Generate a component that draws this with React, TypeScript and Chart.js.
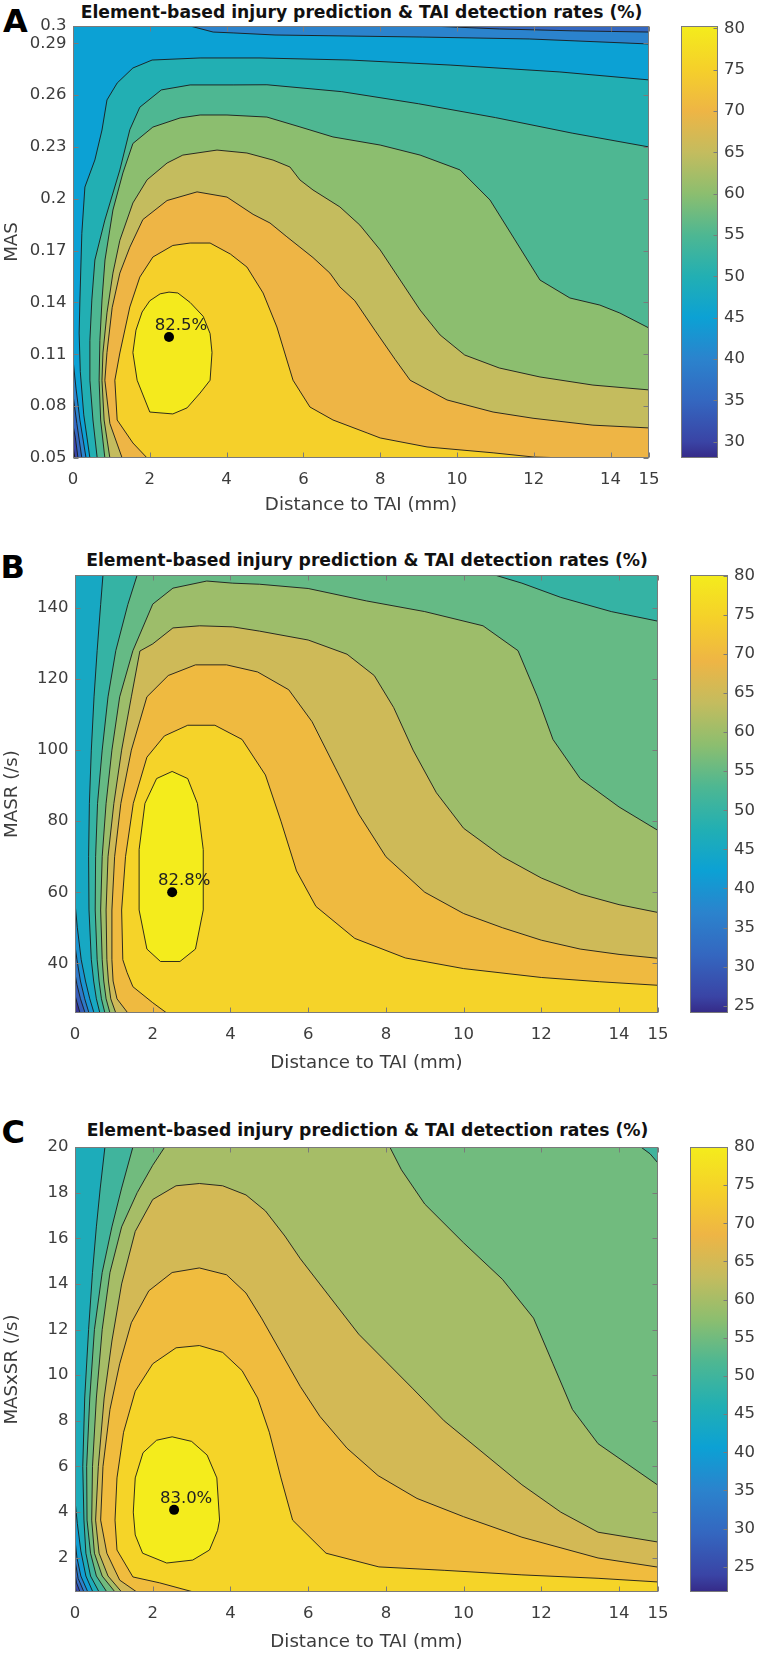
import React, { useEffect, useRef } from "react";
import { Chart, registerables } from "chart.js";

Chart.register(...registerables);

// ---------------- shared text ----------------
const TITLE = "Element-based injury prediction & TAI detection rates (%)";
const X_TITLE = "Distance to TAI (mm)";
const X_TICKS = [0, 2, 4, 6, 8, 10, 12, 14, 15];

// ---------------- panel A ----------------
const A_Y_TICKS = [0.05, 0.08, 0.11, 0.14, 0.17, 0.2, 0.23, 0.26, 0.29, 0.3];
const A_CB_TICKS = [30, 35, 40, 45, 50, 55, 60, 65, 70, 75, 80];
const A_CB_RANGE = [28.04, 80.28];
const A_LEVELS = [30, 35, 40, 45, 50, 55, 60, 65, 70, 75, 80];
const A_PEAK = [2.5, 0.12];
const A_PEAK_LABEL = "82.5%";
const A_C30 = [[0, 0.3], [15, 0.3], [15, 0.05], [0.05, 0.05], [0.02, 0.054], [0, 0.0575]];
const A_C35 = [[0, 0.3], [15, 0.3], [15, 0.05], [0.13, 0.05], [0.06, 0.062], [0, 0.069]];
const A_C40 = [[0, 0.3], [9.3, 0.3], [11.1, 0.2983], [13, 0.2972], [15, 0.2965], [15, 0.05], [0.23, 0.05], [0.1, 0.07], [0, 0.0865]];
const A_C45 = [[0, 0.3], [3.05, 0.3], [3.65, 0.2965], [4.17, 0.296], [5.26, 0.2948], [9.11, 0.2936], [11.88, 0.2925], [15, 0.2896], [15, 0.05], [0.34, 0.05], [0.18, 0.072], [0.08, 0.09], [0, 0.107]];
const A_C50 = [[15, 0.2688], [12.68, 0.2734], [9.82, 0.2774], [7.21, 0.2803], [4.87, 0.2815], [3.31, 0.2815], [2.06, 0.2803], [1.56, 0.2757], [1.15, 0.267], [0.885, 0.2572], [0.755, 0.2398], [0.57, 0.2225], [0.31, 0.2068], [0.23, 0.18], [0.18, 0.1414], [0.16, 0.1223], [0.19, 0.1], [0.28, 0.075], [0.44, 0.05], [15, 0.05]];
const A_C55 = [[15, 0.23], [13, 0.238], [11, 0.247], [9, 0.255], [7, 0.262], [5.05, 0.266], [4.17, 0.2659], [3.05, 0.2659], [2.3, 0.263], [1.74, 0.253], [1.48, 0.24], [1.22, 0.2167], [0.83, 0.1877], [0.57, 0.1646], [0.49, 0.1414], [0.44, 0.118], [0.44, 0.095], [0.52, 0.072], [0.63, 0.05], [15, 0.05]];
const A_C60 = [[15, 0.1252], [14.24, 0.1339], [13.72, 0.1385], [12.94, 0.1426], [12.16, 0.153], [11.51, 0.1762], [10.86, 0.1993], [10.08, 0.2167], [9.04, 0.2253], [8.0, 0.2311], [6.77, 0.2358], [5.91, 0.2416], [5.05, 0.2473], [4.01, 0.2485], [3.31, 0.2485], [2.79, 0.2468], [2.08, 0.2415], [1.56, 0.232], [1.3, 0.215], [1.04, 0.1935], [0.833, 0.1646], [0.755, 0.1414], [0.7, 0.118], [0.68, 0.095], [0.72, 0.072], [0.83, 0.05], [15, 0.05]];
const A_C65 = [[15, 0.0894], [13.54, 0.0922], [12.16, 0.0969], [11.1, 0.1021], [10.2, 0.1096], [9.56, 0.1212], [9.04, 0.1356], [8.52, 0.153], [8.0, 0.1704], [7.47, 0.1848], [6.95, 0.1953], [6.25, 0.2051], [5.91, 0.2109], [5.65, 0.2184], [5.21, 0.2224], [4.53, 0.2265], [3.75, 0.2282], [2.86, 0.2253], [2.45, 0.2207], [1.93, 0.211], [1.56, 0.1976], [1.22, 0.176], [1.04, 0.157], [0.885, 0.134], [0.78, 0.1108], [0.755, 0.095], [0.81, 0.072], [0.96, 0.05], [15, 0.05]];
const A_C70 = [[15, 0.0674], [13.54, 0.069], [11.98, 0.073], [10.94, 0.0766], [9.74, 0.0836], [8.78, 0.095], [8.39, 0.107], [7.86, 0.124], [7.34, 0.141], [6.95, 0.149], [6.69, 0.157], [6.25, 0.166], [5.91, 0.172], [5.57, 0.178], [5.13, 0.186], [4.69, 0.191], [4.01, 0.201], [3.23, 0.204], [2.45, 0.199], [1.82, 0.188], [1.48, 0.172], [1.22, 0.157], [1.02, 0.137], [0.885, 0.111], [0.83, 0.095], [0.96, 0.07], [1.28, 0.05], [15, 0.05]];
const A_C75 = [[12.86, 0.05], [11.98, 0.0506], [10.94, 0.053], [9.22, 0.0564], [8.0, 0.0616], [7.66, 0.0645], [6.77, 0.072], [6.17, 0.0795], [5.73, 0.095], [5.57, 0.1067], [5.31, 0.1258], [4.95, 0.1455], [4.53, 0.1605], [4.1, 0.168], [3.57, 0.1744], [3.05, 0.1744], [2.6, 0.173], [2.08, 0.1663], [1.74, 0.1547], [1.48, 0.1374], [1.22, 0.1108], [1.09, 0.095], [1.15, 0.072], [1.56, 0.0587], [1.93, 0.05]];
const A_C80 = [[2.5, 0.146], [2.73, 0.1455], [3.05, 0.14], [3.39, 0.132], [3.57, 0.122], [3.62, 0.111], [3.57, 0.095], [3.31, 0.0876], [2.97, 0.079], [2.6, 0.0755], [2.0, 0.0766], [1.67, 0.095], [1.56, 0.111], [1.64, 0.124], [1.8, 0.1345], [2.0, 0.141], [2.27, 0.145]];

// ---------------- panel B ----------------
const B_Y_TICKS = [40, 60, 80, 100, 120, 140];
const B_CB_TICKS = [25, 30, 35, 40, 45, 50, 55, 60, 65, 70, 75, 80];
const B_CB_RANGE = [24.07, 80.1];
const B_LEVELS = [25, 30, 35, 40, 45, 50, 55, 60, 65, 70, 75, 80];
const B_PEAK = [2.5, 60];
const B_PEAK_LABEL = "82.8%";
const B_C25 = [[0, 149.3], [15, 149.3], [15, 26], [0.03, 26], [0, 27]];
const B_C30 = [[0, 149.3], [15, 149.3], [15, 26], [0.13, 26], [0.05, 29], [0, 31]];
const B_C35 = [[0, 149.3], [15, 149.3], [15, 26], [0.26, 26], [0.14, 30], [0.05, 34], [0, 37]];
const B_C40 = [[0, 149.3], [15, 149.3], [15, 26], [0.36, 26], [0.25, 30], [0.14, 35], [0.05, 41], [0, 45]];
const B_C45 = [[0, 149.3], [15, 149.3], [15, 26], [0.49, 26], [0.38, 30], [0.27, 35], [0.16, 41], [0.06, 50], [0, 57]];
const B_C50 = [[0.72, 149.3], [15, 149.3], [15, 26], [0.64, 26], [0.55, 30], [0.48, 35], [0.42, 41], [0.36, 55], [0.35, 70], [0.37, 85], [0.42, 100], [0.49, 115], [0.57, 128], [0.66, 141]];
const B_C55 = [[1.6, 149.3], [10.8, 149.3], [11.5, 147], [12.5, 143], [13.8, 139], [15, 136.3], [15, 26], [0.77, 26], [0.68, 30], [0.62, 35], [0.57, 41], [0.52, 55], [0.53, 70], [0.58, 85], [0.7, 100], [0.85, 115], [1.05, 128], [1.36, 141]];
const B_C60 = [[15, 77.4], [14, 84], [13, 92], [12.3, 103], [11.9, 115], [11.4, 128], [10.5, 135], [9, 139], [7.5, 142], [6, 145.5], [4.75, 146.7], [4.06, 147], [3.39, 147.6], [2.52, 145.6], [2.0, 141.1], [1.49, 128], [1.15, 115], [0.95, 100], [0.8, 85], [0.7, 70], [0.66, 55], [0.7, 41], [0.74, 35], [0.8, 30], [0.9, 26], [15, 26]];
const B_C65 = [[15, 54.3], [14, 56.5], [13, 59.5], [12, 64], [11, 70], [10, 78], [9.3, 88], [8.7, 100], [8.2, 112], [7.7, 121], [7, 127], [6, 131], [4.75, 133.5], [4.06, 134.7], [3.21, 135], [2.52, 134.4], [2.0, 129.9], [1.67, 127.9], [1.45, 115], [1.2, 100], [1.0, 85], [0.85, 70], [0.8, 55], [0.82, 41], [0.86, 35], [0.92, 30], [1.05, 26], [15, 26]];
const B_C70 = [[15, 41.4], [14, 42.5], [13, 44], [12, 46.5], [11, 50], [10, 54], [9, 60], [8, 70], [7.3, 82], [6.7, 95], [6.1, 108], [5.5, 117], [4.7, 122], [3.9, 124], [3.1, 124], [2.4, 121], [1.85, 115], [1.45, 100], [1.18, 85], [1.02, 70], [0.95, 55], [0.95, 41], [0.98, 35], [1.08, 30], [1.36, 26], [15, 26]];
const B_C75 = [[2.36, 26], [2.0, 28.9], [1.49, 33.4], [1.34, 37.4], [1.23, 41], [1.2, 55], [1.3, 70], [1.5, 85], [1.85, 98], [2.3, 104], [2.9, 107], [3.6, 107], [4.3, 103], [4.9, 93], [5.3, 80], [5.7, 66], [6.2, 56], [7.2, 47], [8.5, 41.5], [10, 38.5], [12, 36], [13.5, 34.8], [15, 33.8], [15, 26]];
const B_C80 = [[2.5, 94], [2.9, 92], [3.15, 85], [3.3, 72], [3.3, 55], [3.1, 44], [2.7, 40.5], [2.2, 40.5], [1.85, 44], [1.65, 55], [1.65, 72], [1.8, 85], [2.1, 92]];

// ---------------- panel C ----------------
const C_Y_TICKS = [2, 4, 6, 8, 10, 12, 14, 16, 18, 20];
const C_CB_TICKS = [25, 30, 35, 40, 45, 50, 55, 60, 65, 70, 75, 80];
const C_CB_RANGE = [21.7, 80.0];
const C_LEVELS = [25, 30, 35, 40, 45, 50, 55, 60, 65, 70, 75, 80];
const C_PEAK = [2.55, 4.1];
const C_PEAK_LABEL = "83.0%";
const C_C25 = [[0, 20], [15, 20], [15, 0.5], [0.03, 0.5], [0, 0.8]];
const C_C30 = [[0, 20], [15, 20], [15, 0.5], [0.13, 0.5], [0.04, 0.9], [0, 1.3]];
const C_C35 = [[0, 20], [15, 20], [15, 0.5], [0.23, 0.5], [0.08, 1.1], [0, 1.9]];
const C_C40 = [[0, 20], [15, 20], [15, 0.5], [0.33, 0.5], [0.15, 1.2], [0.05, 2.0], [0, 2.8]];
const C_C45 = [[0, 20], [15, 20], [15, 0.5], [0.46, 0.5], [0.28, 1.2], [0.15, 2.3], [0.06, 3.5], [0, 4.5]];
const C_C50 = [[0.77, 20], [15, 20], [15, 0.5], [0.62, 0.5], [0.4, 1.2], [0.28, 2.2], [0.23, 3.65], [0.2, 6], [0.25, 9], [0.35, 12], [0.45, 14.5], [0.55, 16.5], [0.65, 18.2]];
const C_C55 = [[1.49, 20], [14.56, 20], [14.8, 19.7], [15, 19.3], [15, 0.5], [0.82, 0.5], [0.55, 1.2], [0.4, 2.2], [0.31, 3.65], [0.3, 6], [0.38, 9], [0.5, 12], [0.7, 14.5], [0.95, 16.5], [1.2, 18.2]];
const C_C60 = [[15, 5.18], [13.46, 7.0], [12.8, 8.5], [12.3, 10.5], [11.8, 12.5], [11, 14.2], [10, 15.8], [9, 17.5], [8.4, 19], [8.1, 20], [2.31, 20], [2.0, 19.2], [1.6, 18], [1.2, 16.5], [0.9, 14.5], [0.7, 12], [0.55, 9], [0.45, 6], [0.43, 3.65], [0.5, 2.2], [0.7, 1.2], [1.03, 0.5], [15, 0.5]];
const C_C65 = [[15, 2.69], [13.46, 3.12], [12.5, 4.0], [11.5, 5.2], [10.5, 6.6], [9.5, 8.0], [8.7, 9.4], [8, 10.6], [7.3, 11.8], [6.8, 12.9], [6.3, 14.0], [5.8, 15.1], [5.4, 16.1], [4.9, 17.2], [4.4, 17.9], [3.8, 18.3], [3.2, 18.4], [2.6, 18.3], [2.0, 17.7], [1.55, 16.3], [1.2, 14], [0.95, 11.5], [0.75, 9], [0.6, 6], [0.53, 3.65], [0.62, 2.2], [0.85, 1.2], [1.2, 0.5], [15, 0.5]];
const C_C70 = [[15, 1.59], [13.46, 1.99], [11.5, 2.9], [10, 3.8], [8.8, 4.6], [7.8, 5.6], [7, 6.8], [6.3, 8.2], [5.8, 9.5], [5.3, 11], [4.8, 12.5], [4.4, 13.6], [3.9, 14.4], [3.2, 14.7], [2.5, 14.5], [1.9, 13.7], [1.45, 12.3], [1.15, 10.5], [0.9, 8.5], [0.72, 6], [0.66, 3.65], [0.82, 2.2], [1.15, 1.02], [1.59, 0.5], [15, 0.5]];
const C_C75 = [[3.05, 0.5], [2.18, 0.9], [1.49, 1.16], [1.08, 2.34], [1.03, 3.65], [1.08, 5.5], [1.25, 7.5], [1.55, 9.3], [2.0, 10.5], [2.6, 11.2], [3.2, 11.3], [3.8, 11], [4.3, 10.2], [4.7, 9], [5.0, 7.5], [5.3, 5.5], [5.6, 3.65], [6.46, 2.2], [7.82, 1.6], [9.5, 1.45], [11.5, 1.25], [13.46, 1.1], [15, 0.94], [15, 0.5]];
const C_C80 = [[2.5, 7.3], [3.0, 7.1], [3.4, 6.5], [3.65, 5.5], [3.72, 3.65], [3.67, 3.2], [3.46, 2.34], [3.03, 1.9], [2.36, 1.77], [1.74, 2.2], [1.55, 3.0], [1.5, 4.0], [1.55, 5.5], [1.75, 6.6], [2.1, 7.15]];

// ---------------- colormap (parula-like) ----------------
const CMAP_T = [0, 0.0375, 0.133, 0.229, 0.325, 0.42, 0.517, 0.612, 0.708, 0.803, 0.9, 1];
const CMAP_C = ["#352A87", "#3A44A5", "#3467C0", "#2B83CD", "#0CA1D4", "#22AFB3", "#4EB792", "#8CBE6F", "#C4BC5E", "#EEB545", "#F5D02A", "#F4EC1C"];

function hexRgb(h: string) {
  const n = parseInt(h.slice(1), 16);
  return [(n >> 16) & 255, (n >> 8) & 255, n & 255];
}
function cmap(t: number) {
  const tt = Math.max(0, Math.min(1, t));
  let i = 0;
  while (i < CMAP_T.length - 2 && tt > CMAP_T[i + 1]) i++;
  const f = (tt - CMAP_T[i]) / (CMAP_T[i + 1] - CMAP_T[i]);
  const a = hexRgb(CMAP_C[i]);
  const b = hexRgb(CMAP_C[i + 1]);
  const c = a.map((v, k) => Math.round(v + (b[k] - v) * f));
  return `rgb(${c[0]},${c[1]},${c[2]})`;
}

const FONT = '"DejaVu Sans", "Liberation Sans", Arial, sans-serif';
const TXT = "#3c3c3c";
const FRAME = "#7a7a7a";

const PANELS = [
  {
    letter: "A", letterLeft: 3, letterBase: 31.7, titleCx: 361.5, titleBase: 18.3,
    canvasTop: 0, canvasH: 530, plot: { l: 73, t: 26, r: 649, b: 458 }, xTitleCy: 505.7, yTitleCx: 12,
    yTitle: "MAS", yRange: [0.05, 0.3], yTicks: A_Y_TICKS, cb: { l: 681, r: 718 }, cbRange: A_CB_RANGE, cbTicks: A_CB_TICKS,
    levels: A_LEVELS, polys: [A_C30, A_C35, A_C40, A_C45, A_C50, A_C55, A_C60, A_C65, A_C70, A_C75, A_C80],
    peak: A_PEAK, peakLabel: A_PEAK_LABEL,
  },
  {
    letter: "B", letterLeft: 0.5, letterBase: 578, titleCx: 367, titleBase: 567,
    canvasTop: 540, canvasH: 545, plot: { l: 75, t: 575, r: 659, b: 1013 }, xTitleCy: 1063.5, yTitleCx: 12,
    yTitle: "MASR (/s)", yRange: [26, 149.3], yTicks: B_Y_TICKS, cb: { l: 690, r: 728 }, cbRange: B_CB_RANGE, cbTicks: B_CB_TICKS,
    levels: B_LEVELS, polys: [B_C25, B_C30, B_C35, B_C40, B_C45, B_C50, B_C55, B_C60, B_C65, B_C70, B_C75, B_C80],
    peak: B_PEAK, peakLabel: B_PEAK_LABEL,
  },
  {
    letter: "C", letterLeft: 1.5, letterBase: 1143, titleCx: 367.5, titleBase: 1137,
    canvasTop: 1105, canvasH: 552, plot: { l: 75, t: 1147, r: 660, b: 1592 }, xTitleCy: 1642.5, yTitleCx: 12,
    yTitle: "MASxSR (/s)", yRange: [0.5, 20], yTicks: C_Y_TICKS, cb: { l: 690, r: 728 }, cbRange: C_CB_RANGE, cbTicks: C_CB_TICKS,
    levels: C_LEVELS, polys: [C_C25, C_C30, C_C35, C_C40, C_C45, C_C50, C_C55, C_C60, C_C65, C_C70, C_C75, C_C80],
    peak: C_PEAK, peakLabel: C_PEAK_LABEL,
  },
];

const PLOT_W = 680;
const CB_X = 640;
const CB_W = 120;
const TICK_FS = 16.5;
const AXT_FS = 18.2;

function fmt(v: number) {
  return String(Math.round(v * 1000) / 1000);
}

const contourPlugin = {
  id: "contourFill",
  beforeDatasetsDraw(chart: any) {
    const { ctx, chartArea: a } = chart;
    ctx.save();
    ctx.beginPath();
    ctx.rect(a.left, a.top, a.right - a.left, a.bottom - a.top);
    ctx.clip();
    ctx.fillStyle = chart.options.plugins.contourFill.base;
    ctx.fillRect(a.left, a.top, a.right - a.left, a.bottom - a.top);
    chart.data.datasets.forEach((ds: any, i: number) => {
      if (!ds.isContour) return;
      const pts = chart.getDatasetMeta(i).data;
      ctx.beginPath();
      pts.forEach((p: any, j: number) => (j ? ctx.lineTo(p.x, p.y) : ctx.moveTo(p.x, p.y)));
      ctx.closePath();
      ctx.fillStyle = ds.fillColor;
      ctx.fill();
      ctx.lineWidth = 0.9;
      ctx.strokeStyle = "#1a1a1a";
      ctx.lineJoin = "round";
      ctx.stroke();
    });
    ctx.restore();
  },
  afterDatasetsDraw(chart: any) {
    const { ctx } = chart;
    const opts = chart.options.plugins.contourFill;
    chart.data.datasets.forEach((ds: any, i: number) => {
      if (!ds.isPeak) return;
      const p = chart.getDatasetMeta(i).data[0];
      ctx.save();
      ctx.font = `16.5px ${FONT}`;
      ctx.fillStyle = "#222";
      ctx.textAlign = "center";
      ctx.textBaseline = "alphabetic";
      ctx.fillText(opts.label, p.x + 12, p.y - 7);
      ctx.restore();
    });
  },
  afterDraw(chart: any) {
    const { ctx, chartArea: a, scales } = chart;
    const L = Math.round(a.left) + 0.5, R = Math.round(a.right) - 0.5;
    const T = Math.round(a.top) + 0.5, B = Math.round(a.bottom) - 0.5;
    ctx.save();
    ctx.strokeStyle = FRAME;
    ctx.lineWidth = 1;
    ctx.strokeRect(L, T, R - L, B - T);
    ctx.beginPath();
    scales.x.ticks.forEach((t: any) => {
      const x = Math.round(scales.x.getPixelForValue(t.value)) + 0.5;
      ctx.moveTo(x, B); ctx.lineTo(x, B - 5);
      ctx.moveTo(x, T); ctx.lineTo(x, T + 5);
    });
    scales.y.ticks.forEach((t: any) => {
      const y = Math.round(scales.y.getPixelForValue(t.value)) + 0.5;
      ctx.moveTo(L, y); ctx.lineTo(L + 5, y);
      ctx.moveTo(R, y); ctx.lineTo(R - 5, y);
    });
    ctx.stroke();
    ctx.restore();
  },
};

const cbFramePlugin = {
  id: "cbFrame",
  afterDraw(chart: any) {
    const { ctx, chartArea: a, scales } = chart;
    const L = Math.round(a.left) + 0.5, R = Math.round(a.right) - 0.5;
    const T = Math.round(a.top) + 0.5, B = Math.round(a.bottom) - 0.5;
    ctx.save();
    ctx.strokeStyle = FRAME;
    ctx.lineWidth = 1;
    ctx.strokeRect(L, T, R - L, B - T);
    ctx.beginPath();
    scales.y.ticks.forEach((t: any) => {
      const y = Math.round(scales.y.getPixelForValue(t.value)) + 0.5;
      ctx.moveTo(R, y); ctx.lineTo(R - 4, y);
    });
    ctx.stroke();
    ctx.restore();
  },
};

function Panel({ spec }: { spec: any }) {
  const plotRef = useRef<HTMLCanvasElement>(null);
  const cbRef = useRef<HTMLCanvasElement>(null);
  const cbTop = spec.plot.t - 20;
  const cbH = spec.plot.b - spec.plot.t + 40;

  useEffect(() => {
    const s = spec;
    const [cmin, cmax] = s.cbRange;
    const tOf = (v: number) => (v - cmin) / (cmax - cmin);
    const canvasBottom = s.canvasTop + s.canvasH;
    const axLH = AXT_FS * 1.2;

    const datasets: any[] = s.polys.map((poly: number[][], i: number) => ({
      data: poly.map(([x, y]) => ({ x, y })),
      isContour: true,
      fillColor: cmap(tOf(s.levels[i])),
      pointRadius: 0,
      pointHoverRadius: 0,
      showLine: false,
    }));
    datasets.push({
      data: [{ x: s.peak[0], y: s.peak[1] }],
      isPeak: true,
      pointRadius: 5,
      pointHoverRadius: 5,
      pointBackgroundColor: "#000",
      pointBorderWidth: 0,
      showLine: false,
    });

    const plot = new Chart(plotRef.current as HTMLCanvasElement, {
      type: "scatter",
      data: { datasets },
      options: {
        animation: false,
        responsive: false,
        devicePixelRatio: 1,
        events: [],
        layout: { padding: { left: 0, right: PLOT_W - s.plot.r, top: s.plot.t - s.canvasTop, bottom: 0 } },
        plugins: {
          legend: { display: false },
          tooltip: { enabled: false },
          contourFill: { base: cmap(0), label: s.peakLabel },
        } as any,
        scales: {
          x: {
            type: "linear",
            min: 0,
            max: 15,
            afterBuildTicks: (sc: any) => { sc.ticks = X_TICKS.map((v) => ({ value: v })); },
            afterFit: (sc: any) => { sc.height = canvasBottom - s.plot.b; },
            grid: { display: false, drawTicks: false },
            border: { display: false },
            ticks: { autoSkip: false, maxRotation: 0, padding: 11.6, color: TXT, font: { family: FONT, size: TICK_FS }, callback: (v: any) => fmt(Number(v)) },
            title: { display: true, text: X_TITLE, color: TXT, font: { family: FONT, size: AXT_FS }, padding: { top: 0, bottom: canvasBottom - s.xTitleCy - axLH / 2 } },
          },
          y: {
            type: "linear",
            min: s.yRange[0],
            max: s.yRange[1],
            afterBuildTicks: (sc: any) => { sc.ticks = s.yTicks.map((v: number) => ({ value: v })); },
            afterFit: (sc: any) => { sc.width = s.plot.l; },
            grid: { display: false, drawTicks: false },
            border: { display: false },
            ticks: { autoSkip: false, padding: 6.5, color: TXT, font: { family: FONT, size: TICK_FS }, callback: (v: any) => fmt(Number(v)) },
            title: { display: true, text: s.yTitle, color: TXT, font: { family: FONT, size: AXT_FS }, padding: { top: s.yTitleCx - axLH / 2, bottom: 0 } },
          },
        },
      } as any,
      plugins: [contourPlugin as any],
    });

    const cb = new Chart(cbRef.current as HTMLCanvasElement, {
      type: "bar",
      data: {
        labels: ["cb"],
        datasets: [
          {
            data: [[cmin, cmax]] as any,
            barPercentage: 1,
            categoryPercentage: 1,
            borderWidth: 0,
            backgroundColor: (ctx: any) => {
              const ch = ctx.chart;
              const ys = ch.scales && ch.scales.y;
              if (!ys || !ch.chartArea) return cmap(0.5);
              const g = ch.ctx.createLinearGradient(0, ys.getPixelForValue(cmin), 0, ys.getPixelForValue(cmax));
              CMAP_T.forEach((t, i) => g.addColorStop(t, CMAP_C[i]));
              return g;
            },
          },
        ],
      },
      options: {
        animation: false,
        responsive: false,
        devicePixelRatio: 1,
        events: [],
        layout: { padding: { left: s.cb.l - CB_X, right: 0, top: 20, bottom: 20 } },
        plugins: { legend: { display: false }, tooltip: { enabled: false } },
        scales: {
          x: { display: false },
          y: {
            position: "right",
            min: cmin,
            max: cmax,
            afterBuildTicks: (sc: any) => { sc.ticks = s.cbTicks.map((v: number) => ({ value: v })); },
            afterFit: (sc: any) => { sc.width = CB_W - (s.cb.r - CB_X); },
            grid: { display: false, drawTicks: false },
            border: { display: false },
            ticks: { autoSkip: false, padding: 6, color: TXT, font: { family: FONT, size: TICK_FS }, callback: (v: any) => fmt(Number(v)) },
          },
        },
      } as any,
      plugins: [cbFramePlugin as any],
    });

    return () => {
      plot.destroy();
      cb.destroy();
    };
  }, []);

  const titleFs = 17.2;
  const letterFs = 32;
  return (
    <>
      <div
        style={{
          position: "absolute", left: spec.letterLeft, top: spec.letterBase - 0.846 * letterFs,
          font: `bold ${letterFs}px ${FONT}`, lineHeight: `${letterFs}px`, color: "#000", whiteSpace: "nowrap",
        }}
      >
        {spec.letter}
      </div>
      <div
        style={{
          position: "absolute", left: spec.titleCx - 400, width: 800, textAlign: "center",
          top: spec.titleBase - 0.846 * titleFs,
          font: `bold ${titleFs}px ${FONT}`, lineHeight: `${titleFs}px`, color: "#111", whiteSpace: "nowrap",
        }}
      >
        {TITLE}
      </div>
      <canvas
        ref={plotRef}
        width={PLOT_W}
        height={spec.canvasH}
        style={{ position: "absolute", left: 0, top: spec.canvasTop, width: PLOT_W, height: spec.canvasH }}
      />
      <canvas
        ref={cbRef}
        width={CB_W}
        height={cbH}
        style={{ position: "absolute", left: CB_X, top: cbTop, width: CB_W, height: cbH }}
      />
    </>
  );
}

export default function App() {
  return (
    <div style={{ position: "absolute", left: 0, top: 0, width: 760, height: 1657, background: "#fff", overflow: "hidden" }}>
      {PANELS.map((p) => (
        <Panel key={p.letter} spec={p} />
      ))}
    </div>
  );
}
